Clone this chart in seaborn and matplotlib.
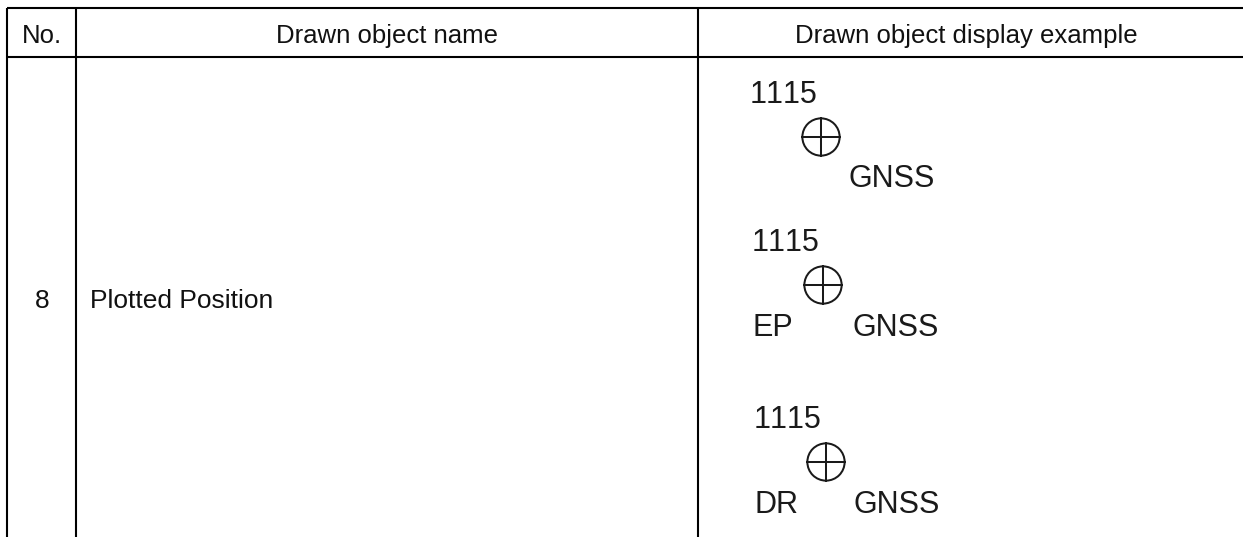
import matplotlib
matplotlib.use("Agg")
import matplotlib.pyplot as plt
import pandas as pd
import seaborn as sns

# Table text
headers = ["No.", "Drawn object name", "Drawn object display example"]
row_no = "8"
row_name = "Plotted Position"

# Table rules, in pixels of the picture
col_edges = [7.5, 76, 698]
row_edges = [8, 56.5]
right_edge = 1243
bottom_edge = 537

# Symbols of the display example
symbol_x = [821, 823, 826]
symbol_y = [137, 285, 462]

# Labels around the symbols: text, x, baseline y
label_text = ["1115", "GNSS", "1115", "EP", "GNSS", "1115", "DR", "GNSS"]
label_x = [750, 849, 752, 752.5, 853, 754, 755, 853.5]
label_y = [102.7, 187, 251, 336, 336, 428, 513, 513]

sns.set_theme(style="white", rc={"lines.solid_capstyle": "butt"})
plt.rcParams["font.family"] = ["Liberation Sans", "DejaVu Sans"]
# the "11" pair collapses with kerning on
plt.rcParams["text.kerning_factor"] = 6

fig, ax = plt.subplots(figsize=(12.43, 5.37), dpi=100)
ax.set_position([0, 0, 1, 1])

# Build the rules as one long table, one unit per line
rules = []
for i, x in enumerate(col_edges):
    rules.append({"x": x, "y": row_edges[0], "line": f"v{i}"})
    rules.append({"x": x, "y": bottom_edge, "line": f"v{i}"})
for i, y in enumerate(row_edges):
    rules.append({"x": col_edges[0], "y": y, "line": f"h{i}"})
    rules.append({"x": right_edge, "y": y, "line": f"h{i}"})
rules = pd.DataFrame(rules)

sns.lineplot(data=rules, x="x", y="y", units="line", estimator=None, sort=False,
             color="black", linewidth=1.5, ax=ax)

# Circle with a cross through it
symbols = pd.DataFrame({"x": symbol_x, "y": symbol_y})
sns.scatterplot(data=symbols, x="x", y="y", marker="o", s=720, facecolors="none",
                edgecolors="#1a1a1a", linewidth=1.45, ax=ax)
sns.scatterplot(data=symbols, x="x", y="y", marker="+", s=790, color="#1a1a1a",
                linewidth=1.45, ax=ax)

# Header and row text
head_y = 42.7
ax.text(42, head_y, headers[0], ha="center", va="baseline", fontsize=18.5, color="#111111")
ax.text(387, head_y, headers[1], ha="center", va="baseline", fontsize=18.5, color="#111111")
ax.text(966, head_y, headers[2], ha="center", va="baseline", fontsize=18.5, color="#111111")
ax.text(42, 308, row_no, ha="center", va="baseline", fontsize=19, color="#111111")
ax.text(90, 308, row_name, ha="left", va="baseline", fontsize=19, color="#111111")

for t, x, y in zip(label_text, label_x, label_y):
    ax.text(x, y, t, ha="left", va="baseline", fontsize=22, color="#1a1a1a")

ax.set_xlim(0, 1243)
ax.set_ylim(537, 0)
ax.set_xlabel("")
ax.set_ylabel("")
ax.axis("off")

fig.savefig("out.png", dpi=100, facecolor="white")
